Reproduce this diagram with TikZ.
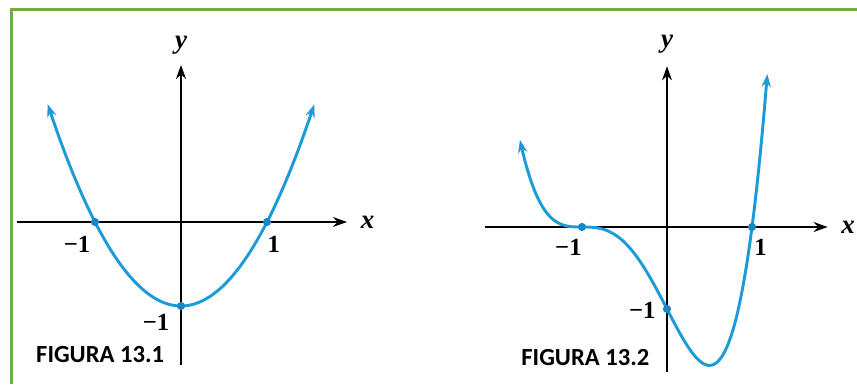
\documentclass[tikz,border=0pt]{standalone}
\usepackage{fontspec}
\setmainfont{Liberation Serif}
\newfontfamily\figfont{Carlito}
\usetikzlibrary{arrows.meta,positioning}
\definecolor{framegreen}{HTML}{70AD47}
\definecolor{curveblue}{HTML}{1C9BD8}
\definecolor{dotblue}{HTML}{1A86C4}

\begin{document}
\begin{tikzpicture}[
    x=0.03cm, y=-0.03cm,
    axis/.style={-{Stealth[length=12pt,width=8.5pt]}, line width=1.6pt, black},
    curve/.style={{Stealth[length=11pt,width=8pt]}-{Stealth[length=11pt,width=8pt]},
      curveblue, line width=2.5pt},
    dot/.style={circle, fill=dotblue, inner sep=0pt, minimum size=7pt},
    tick/.style={font=\fontsize{21}{24}\selectfont\bfseries, inner sep=0pt},
    varlabel/.style={font=\fontsize{23}{26}\selectfont\bfseries\itshape, inner sep=0pt},
    figlabel/.style={font=\figfont\fontsize{21}{24}\selectfont\bfseries, inner sep=0pt},
  ]
  \useasboundingbox[fill=white] (0,0) rectangle (857,384);

  % Frame (left and top edges only)
  \coordinate (fbl) at (11.5,384);
  \coordinate (ftl) at (11.5,9.5);
  \coordinate (ftr) at (857,9.5);
  \draw[framegreen, line width=3.4pt] (fbl) -- (ftl) -- (ftr);

  % =================== Figura 13.1: y = x^2 - 1 ===================
  \begin{scope}[shift={(181,222)}, x=2.58cm, y=2.52cm]
    \coordinate (xa1) at (-1.91,0);
    \coordinate (xb1) at (1.93,0);
    \coordinate (ya1) at (0,-1.70);
    \coordinate (yb1) at (0,1.87);
    \draw[axis] (xa1) -- (xb1);
    \draw[axis] (ya1) -- (yb1);
    \node[varlabel] (xl1) at (2.17,0) {x};
    \node[varlabel] (yl1) at (0,2.10) {y};

    \draw[curve] plot[domain=-1.55:1.55, samples=80, smooth] (\x, {\x*\x-1});

    \node[dot] (p1a) at (-1,0) {};
    \node[dot] (p1b) at (1,0) {};
    \node[dot] (p1c) at (0,-1) {};

    \node[tick] (t1a) at (-1.21,-0.27) {−1};
    \node[tick] (t1b) at (1.08,-0.27) {1};
    \node[tick] (t1c) at (-0.29,-1.20) {−1};

    \node[figlabel] (f1) at (-0.94,-1.58) {FIGURA 13.1};
  \end{scope}

  % =================== Figura 13.2: y = (x+1)^3 (x-1) ===================
  \begin{scope}[shift={(667,227)}, x=2.55cm, y=2.46cm]
    \coordinate (xa2) at (-2.14,0);
    \coordinate (xb2) at (1.89,0);
    \coordinate (ya2) at (0,-1.77);
    \coordinate (yb2) at (0,1.96);
    \draw[axis] (xa2) -- (xb2);
    \draw[axis] (ya2) -- (yb2);
    \node[varlabel] (xl2) at (2.13,0) {x};
    \node[varlabel] (yl2) at (0,2.23) {y};

    \draw[curve] plot[domain=-1.73:1.18, samples=140, smooth]
      (\x, {(\x+1)*(\x+1)*(\x+1)*(\x-1)});

    \node[dot] (p2a) at (-1,0) {};
    \node[dot] (p2b) at (1,0) {};
    \node[dot] (p2c) at (0,-1) {};

    \node[tick] (t2a) at (-1.16,-0.25) {−1};
    \node[tick] (t2b) at (1.10,-0.25) {1};
    \node[tick] (t2c) at (-0.29,-1.02) {−1};

    \node[figlabel] (f2) at (-0.96,-1.59) {FIGURA 13.2};
  \end{scope}

\end{tikzpicture}
\end{document}
